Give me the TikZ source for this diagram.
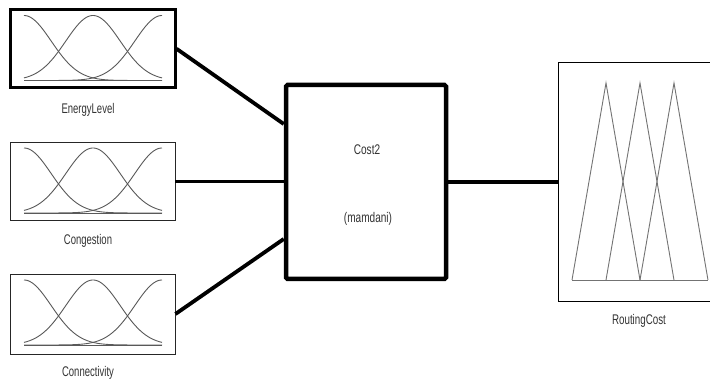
\documentclass[tikz,border=0pt]{standalone}
\usepackage{fontspec}
\setmainfont{Liberation Sans}
\begin{document}
\begin{tikzpicture}[x=1pt,y=-1pt,
  lbl/.style={font=\fontsize{14}{16}\selectfont, text=black!80, inner sep=0pt},
  mfbox/.style={draw, rectangle, inner sep=0pt, minimum width=164.5pt, minimum height=78.5pt},
  curve/.style={draw=black!65, line width=0.9pt},
  tri/.style={draw=black!55, line width=0.9pt},
  link/.style={line width=3.8pt}
]
\clip (0,0) rectangle (710,379);
\fill[white] (0,0) rectangle (710,379);

% input membership-function boxes
\node[mfbox, line width=3pt] (e) at (92.75,48.75) {};
\node[mfbox, draw=black!85, line width=0.9pt] (g) at (92.75,181.5) {};
\node[mfbox, draw=black!85, line width=0.9pt, minimum height=80pt] (n) at (92.75,314) {};

\foreach \t in {9.5,142,274} {
  \draw[curve] (24,\t+71) -- (162,\t+71);
  \draw[curve, domain=24:162, samples=90, smooth] plot (\x, {\t+71-65*exp(-0.5*((\x-24)/27.2)^2)});
  \draw[curve, domain=24:162, samples=90, smooth] plot (\x, {\t+71-65*exp(-0.5*((\x-93)/27.2)^2)});
  \draw[curve, domain=24:162, samples=90, smooth] plot (\x, {\t+71-65*exp(-0.5*((\x-162)/27.2)^2)});
}

\node[lbl] (le) at (88,110) {\scalebox{0.68}[1]{EnergyLevel}};
\node[lbl] (lg) at (88,241) {\scalebox{0.68}[1]{Congestion}};
\node[lbl] (ln) at (88,373) {\scalebox{0.68}[1]{Connectivity}};

% FIS block
\node[draw, line width=4.5pt, rounded corners=1.5pt, minimum width=160pt, minimum height=194pt, inner sep=0pt] (c) at (366,182) {};
\node[lbl] (ct) at (367,150) {\scalebox{0.72}[1]{Cost2}};
\node[lbl] (cm) at (368,219) {\scalebox{0.72}[1]{(mamdani)}};

% output box
\node[draw, line width=0.9pt, minimum width=202pt, minimum height=239pt, inner sep=0pt] (r) at (659,181.5) {};
\draw[tri] (572,280) -- (708,280);
\draw[tri] (572,280) -- (606,83) -- (640,280);
\draw[tri] (606,280) -- (640,83) -- (674,280);
\draw[tri] (640,280) -- (674,83) -- (708,280);
\node[lbl] (lr) at (639,321) {\scalebox{0.7}[1]{RoutingCost}};

% connectors
\draw[link] (e.east) -- ([yshift=58pt]c.west);
\draw[link] (g.east) -- (g.east -| c.west);
\draw[link] (n.east) -- ([yshift=-57pt]c.west);
\draw[link] (c.east) -- (c.east -| r.west);
\end{tikzpicture}
\end{document}
